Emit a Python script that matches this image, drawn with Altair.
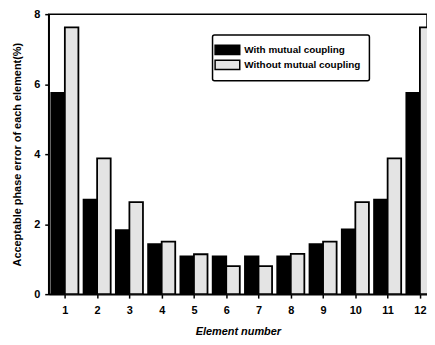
import altair as alt
import pandas as pd

elements = list(range(1, 13))
with_coupling = [5.75, 2.70, 1.83, 1.43, 1.08, 1.08, 1.08, 1.08, 1.43, 1.85, 2.70, 5.75]
without_coupling = [7.62, 3.88, 2.63, 1.50, 1.14, 0.80, 0.80, 1.15, 1.50, 2.63, 3.88, 7.62]
series_names = ["With mutual coupling", "Without mutual coupling"]

rows = []
for e, a, b in zip(elements, with_coupling, without_coupling):
    rows.append({"element": e, "value": a, "series": series_names[0], "side": -1})
    rows.append({"element": e, "value": b, "series": series_names[1], "side": 0})
df = pd.DataFrame(rows)

bars = alt.Chart(df).transform_calculate(
    x0="datum.element + datum.side * 0.42",
    x1="datum.element + (datum.side + 1) * 0.42",
).mark_bar(clip=True, stroke="black", strokeWidth=1.8).encode(
    x=alt.X("x0:Q", scale=alt.Scale(domain=[0.5, 12.22], nice=False, zero=False),
            axis=alt.Axis(values=elements, format="d", title="Element number",
                          titleFontStyle="italic")),
    x2="x1:Q",
    y=alt.Y("value:Q", scale=alt.Scale(domain=[0, 8], nice=False),
            axis=alt.Axis(values=[0, 2, 4, 6, 8], format="d",
                          title="Acceptable phase error of each element(%)")),
    y2=alt.datum(0),
    fill=alt.Fill("series:N", scale=alt.Scale(domain=series_names, range=["black", "#e4e4e4"]),
                  legend=alt.Legend(
                      title=None, orient="none", legendX=165, legendY=21,
                      symbolType="M-2,-0.75H2V0.75H-2Z", symbolSize=154,
                      symbolStrokeColor="black", symbolStrokeWidth=1.5,
                      labelFont="Liberation Sans", labelFontSize=10, labelFontWeight="bold",
                      labelColor="black", rowPadding=-4, labelOffset=10,
                      strokeColor="black", padding=8, fillColor="white",
                      cornerRadius=2)),
)

chart = bars.properties(
    width=381, height=282,
    autosize=alt.AutoSizeParams(type="none"),
    padding={"left": 41, "top": 5, "right": 0, "bottom": 45},
).configure_view(
    stroke="black", strokeWidth=1.5,
).configure_axis(
    domainColor="black", domainWidth=1.5, tickColor="black", tickWidth=1.5, tickSize=4,
    labelFont="Liberation Sans", labelFontSize=11, labelFontWeight="bold", labelColor="black",
    titleFont="Liberation Sans", titleFontSize=11, titleFontWeight="bold", titleColor="black",
    grid=False, labelPadding=5,
).configure_axisX(
    labelPadding=7, titlePadding=10,
).configure_axisY(
    titlePadding=11,
).configure_legend(
    strokeWidth=1.5,
)

chart.save("out.html", embed_options={"renderer": "svg", "actions": False})
